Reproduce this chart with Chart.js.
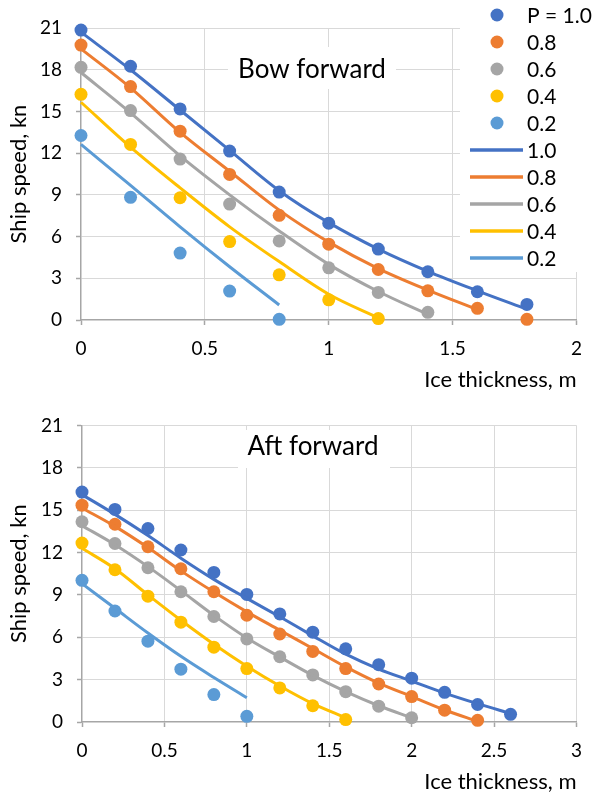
<!DOCTYPE html>
<html>
<head>
<meta charset="utf-8">
<script src="https://cdn.jsdelivr.net/npm/chart.js@4.4.1/dist/chart.umd.min.js"></script>
<style>
html,body{margin:0;padding:0;background:#fff;}
#wrap{position:relative;width:594px;height:797px;overflow:hidden;}
canvas{position:absolute;left:0;}
</style>
</head>
<body>
<div id="wrap">
<canvas id="bow" width="594" height="400" style="top:0"></canvas>
<canvas id="aft" width="594" height="397" style="top:400px"></canvas>
</div>
<script>
// ---------- DATA ----------
const speedTicks = [0, 3, 6, 9, 12, 15, 18, 21];
const bowThicknessTicks = [0, 0.5, 1, 1.5, 2];
const aftThicknessTicks = [0, 0.5, 1, 1.5, 2, 2.5, 3];

const dotLabels  = ['P = 1.0', '0.8', '0.6', '0.4', '0.2'];
const lineLabels = ['1.0', '0.8', '0.6', '0.4', '0.2'];

// Bow forward (ice thickness, m)
const bowX = [0, 0.2, 0.4, 0.6, 0.8, 1.0, 1.2, 1.4, 1.6, 1.8];
const bowDots10 = [20.85, 18.25, 15.18, 12.15, 9.2, 6.96, 5.1, 3.47, 2.03, 1.12];
const bowDots08 = [19.77, 16.79, 13.58, 10.47, 7.53, 5.45, 3.63, 2.1, 0.84, 0.05];
const bowDots06 = [18.17, 15.06, 11.57, 8.34, 5.69, 3.75, 1.98, 0.55];
const bowDots04 = [16.23, 12.63, 8.79, 5.64, 3.25, 1.45, 0.1];
const bowDots02 = [13.27, 8.82, 4.81, 2.08, 0.05];
const bowLine10 = [20.7, 18.0, 15.1, 12.2, 9.3, 7.0, 5.1, 3.5, 2.1, 0.78];
const bowLine08 = [19.5, 16.7, 13.5, 10.7, 7.9, 5.6, 3.7, 2.15, 0.75];
const bowLine06 = [17.8, 14.9, 11.8, 9.0, 6.4, 4.0, 2.05, 0.4];
const bowLine04 = [15.66, 12.43, 9.5, 6.7, 4.2, 1.85, 0.15];
const bowLine02 = [12.63, 9.68, 6.7, 3.83, 1.08];

// Aft forward
const aftX = [0, 0.2, 0.4, 0.6, 0.8, 1.0, 1.2, 1.4, 1.6, 1.8, 2.0, 2.2, 2.4, 2.6];
const aftDots10 = [16.28, 15.05, 13.7, 12.18, 10.59, 9.03, 7.65, 6.36, 5.18, 4.06, 3.1, 2.1, 1.24, 0.54];
const aftDots08 = [15.35, 14.0, 12.41, 10.85, 9.22, 7.56, 6.23, 5.0, 3.78, 2.69, 1.8, 0.84, 0.12];
const aftDots06 = [14.18, 12.64, 10.92, 9.22, 7.47, 5.88, 4.62, 3.33, 2.15, 1.12, 0.3];
const aftDots04 = [12.67, 10.78, 8.91, 7.07, 5.3, 3.78, 2.41, 1.15, 0.17];
const aftDots02 = [10.03, 7.86, 5.72, 3.74, 1.94, 0.4];
const aftLine10 = [16.1, 14.7, 13.2, 11.6, 10.1, 8.75, 7.45, 6.1, 4.8, 3.75, 2.9, 2.05, 1.3, 0.6];
const aftLine08 = [15.15, 13.85, 12.35, 10.7, 9.2, 7.8, 6.5, 5.2, 3.9, 2.75, 1.8, 0.85, 0.05];
const aftLine06 = [13.9, 12.55, 11.0, 9.3, 7.55, 5.95, 4.6, 3.3, 2.15, 1.15, 0.3];
const aftLine04 = [12.3, 10.85, 9.0, 7.2, 5.5, 3.95, 2.55, 1.3, 0.3];
const aftLine02 = [9.8, 8.05, 6.3, 4.65, 3.15, 1.72];

// ---------- STYLE ----------
const COLORS = ['#4472C4', '#ED7D31', '#A5A5A5', '#FFC000', '#5B9BD5'];
const FONT = 'Lato, "Open Sans", sans-serif';
Chart.defaults.font.family = FONT;
Chart.defaults.color = '#000';

function pts(xs, ys) { return ys.map((y, i) => ({ x: xs[i], y: y })); }

function buildDatasets(xs, dots, lines) {
  const ds = [];
  dots.forEach((arr, i) => ds.push({
    label: dotLabels[i], data: pts(xs, arr), showLine: false,
    backgroundColor: COLORS[i], borderColor: COLORS[i],
    pointRadius: 6.5, pointHoverRadius: 6.5, pointBorderWidth: 0, clip: false
  }));
  lines.forEach((arr, i) => ds.push({
    label: lineLabels[i], data: pts(xs, arr), showLine: true,
    backgroundColor: COLORS[i], borderColor: COLORS[i], borderWidth: 3,
    pointRadius: 0, pointHoverRadius: 0, cubicInterpolationMode: 'monotone', clip: false
  }));
  ds.forEach((d, i) => { d.order = -i; });
  return ds;
}

const boxTitlePlugin = {
  id: 'boxTitle',
  afterDraw(chart, args, o) {
    if (!o || !o.text) return;
    const ctx = chart.ctx;
    ctx.save();
    ctx.fillStyle = '#fff';
    ctx.fillRect(o.x, o.y, o.w, o.h);
    ctx.font = o.font;
    ctx.fillStyle = '#000';
    ctx.textAlign = 'center';
    ctx.textBaseline = 'alphabetic';
    ctx.fillText(o.text, o.cx, o.baseline);
    ctx.restore();
  }
};

const cornerLegendPlugin = {
  id: 'cornerLegend',
  afterDraw(chart, args, o) {
    if (!o || !o.display) return;
    const ctx = chart.ctx;
    ctx.save();
    ctx.fillStyle = '#fff';
    ctx.fillRect(o.x, o.y, o.w, o.h);
    ctx.font = o.font;
    ctx.textBaseline = 'middle';
    ctx.textAlign = 'left';
    chart.data.datasets.forEach((ds, i) => {
      const cy = o.firstRow + i * o.rowGap;
      if (ds.showLine) {
        ctx.strokeStyle = ds.borderColor;
        ctx.lineWidth = o.lineWidth;
        ctx.beginPath();
        ctx.moveTo(o.lineX0, cy);
        ctx.lineTo(o.lineX1, cy);
        ctx.stroke();
      } else {
        ctx.fillStyle = ds.backgroundColor;
        ctx.beginPath();
        ctx.arc(o.dotX, cy, o.dotR, 0, Math.PI * 2);
        ctx.fill();
      }
      ctx.fillStyle = '#000';
      ctx.fillText(ds.label, o.textX, cy + 1);
    });
    ctx.restore();
  }
};

function makeScales(xMax, xTicks, yAxisWidth, xAxisHeight, xTitlePadBottom) {
  const gridColor = (ctx) => (ctx.tick && ctx.tick.value === 0) ? 'rgba(0,0,0,0)' : '#d9d9d9';
  return {
    x: {
      type: 'linear', min: 0, max: xMax,
      afterBuildTicks: (s) => { s.ticks = xTicks.map(v => ({ value: v })); },
      afterFit: (s) => { s.height = xAxisHeight; },
      ticks: { font: { size: 19 }, color: '#000', padding: 12, maxRotation: 0, callback: (v) => String(v) },
      grid: { color: gridColor, lineWidth: 1, tickLength: 5, tickColor: '#a6a6a6', tickWidth: 1.5 },
      border: { color: '#a6a6a6', width: 1.5 },
      title: { display: true, text: 'Ice thickness, m', align: 'end', font: { size: 22 }, color: '#000',
               padding: { top: 0, bottom: xTitlePadBottom } }
    },
    y: {
      type: 'linear', min: 0, max: 21,
      afterBuildTicks: (s) => { s.ticks = speedTicks.map(v => ({ value: v })); },
      afterFit: (s) => { s.width = yAxisWidth; },
      ticks: { font: { size: 19 }, color: '#000', padding: 14, callback: (v) => String(v) },
      grid: { color: gridColor, lineWidth: 1, tickLength: 5, tickColor: '#a6a6a6', tickWidth: 1.5 },
      border: { color: '#a6a6a6', width: 1.5 },
      title: { display: true, text: 'Ship speed, kn', font: { size: 22 }, color: '#000',
               padding: { top: 6, bottom: 0 } }
    }
  };
}

new Chart(document.getElementById('bow'), {
  type: 'scatter',
  data: { datasets: buildDatasets(bowX,
    [bowDots10, bowDots08, bowDots06, bowDots04, bowDots02],
    [bowLine10, bowLine08, bowLine06, bowLine04, bowLine02]) },
  options: {
    responsive: false, animation: false, devicePixelRatio: 1,
    layout: { padding: { top: 28, right: 14, left: 0, bottom: 0 } },
    scales: makeScales(2, bowThicknessTicks, 81, 80, 7),
    plugins: {
      legend: { display: false }, tooltip: { enabled: false },
      boxTitle: { text: 'Bow forward', x: 228, y: 47, w: 168, h: 42, cx: 312, baseline: 78, font: '26px ' + FONT },
      cornerLegend: { display: true, x: 460, y: 0, w: 134, h: 272, firstRow: 15, rowGap: 27,
        dotX: 497, dotR: 6.5, lineX0: 470, lineX1: 523, lineWidth: 3.5, textX: 527, font: '21px ' + FONT }
    }
  },
  plugins: [boxTitlePlugin, cornerLegendPlugin]
});

new Chart(document.getElementById('aft'), {
  type: 'scatter',
  data: { datasets: buildDatasets(aftX,
    [aftDots10, aftDots08, aftDots06, aftDots04, aftDots02],
    [aftLine10, aftLine08, aftLine06, aftLine04, aftLine02]) },
  options: {
    responsive: false, animation: false, devicePixelRatio: 1,
    layout: { padding: { top: 22, right: 15, left: 0, bottom: 0 } },
    scales: makeScales(3, aftThicknessTicks, 82, 75, 2),
    plugins: {
      legend: { display: false }, tooltip: { enabled: false },
      boxTitle: { text: 'Aft forward', x: 238, y: 30, w: 152, h: 38, cx: 313, baseline: 55, font: '26px ' + FONT },
      cornerLegend: { display: false }
    }
  },
  plugins: [boxTitlePlugin, cornerLegendPlugin]
});
</script>
</body>
</html>
